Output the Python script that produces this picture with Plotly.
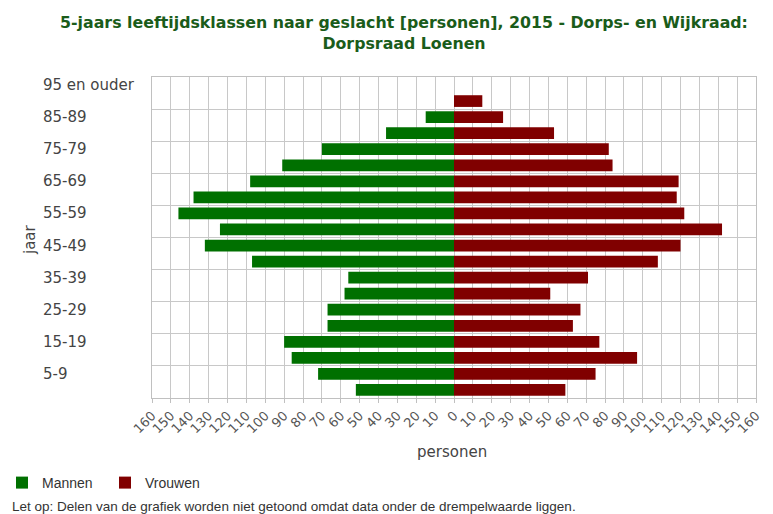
import plotly.graph_objects as go

categories = ["0-4", "5-9", "10-14", "15-19", "20-24", "25-29", "30-34", "35-39",
              "40-44", "45-49", "50-54", "55-59", "60-64", "65-69", "70-74",
              "75-79", "80-84", "85-89", "90-94", "95 en ouder"]
mannen = [52, 72, 86, 90, 67, 67, 58, 56, 107, 132, 124, 146, 138, 108, 91,
          70, 36, 15, None, None]
vrouwen = [59, 75, 97, 77, 63, 67, 51, 71, 108, 120, 142, 122, 118, 119, 84,
           82, 53, 26, 15, None]
x_ticks = list(range(-160, 161, 10))
label_idx = list(range(1, 20, 2))

# plot area in pixels: x 152..756, y 77..398
PL, PR, PT, PB = 152, 756, 77, 398
PW, PH = PR - PL, PB - PT


def px_x(x):
    return (x - PL) / PW


def px_y(y):
    return (PB - y) / PH


ypos = list(range(len(categories)))
fig = go.Figure()
fig.add_trace(go.Bar(y=ypos, x=[-v if v is not None else None for v in mannen],
                     orientation="h", name="Mannen", marker_color="#007000",
                     marker_line_width=0))
fig.add_trace(go.Bar(y=ypos, x=vrouwen, orientation="h", name="Vrouwen",
                     marker_color="#800000", marker_line_width=0))

for i in label_idx:
    fig.add_annotation(x=px_x(41), xref="paper", y=i, yref="y", text=categories[i],
                       showarrow=False, xanchor="left", yanchor="middle",
                       font=dict(family="DejaVu Sans", size=15, color="#444444"))

fig.add_annotation(x=px_x(30), xref="paper", y=px_y(240), yref="paper",
                   text="jaar", textangle=-90, showarrow=False,
                   xanchor="center", yanchor="middle",
                   font=dict(family="DejaVu Sans", size=15, color="#444444"))

fig.add_annotation(x=px_x(452), xref="paper", y=px_y(452), yref="paper",
                   text="personen", showarrow=False,
                   xanchor="center", yanchor="middle",
                   font=dict(family="DejaVu Sans", size=15, color="#444444"))

fig.add_annotation(x=px_x(10), xref="paper", y=px_y(506), yref="paper",
                   xanchor="left", yanchor="middle", showarrow=False,
                   text="Let op: Delen van de grafiek worden niet getoond omdat data onder de drempelwaarde liggen.",
                   font=dict(family="Liberation Sans", size=13.5, color="#333333"))

fig.update_layout(
    width=773, height=514,
    barmode="overlay", bargap=0.27,
    hovermode=False,
    plot_bgcolor="white", paper_bgcolor="white",
    margin=dict(l=PL, r=773 - PR, t=PT, b=514 - PB, autoexpand=False),
    title=dict(text="5-jaars leeftijdsklassen naar geslacht [personen], 2015 - Dorps- en Wijkraad:<br>Dorpsraad Loenen",
               x=404 / 773, xanchor="center", y=1 - 28 / 514, yanchor="middle", yref="container",
               font=dict(family="DejaVu Sans", size=15.8, color="#1a5c1a", weight="bold")),
    font=dict(family="DejaVu Sans", color="#444444"),
    showlegend=True,
    legend=dict(orientation="h", x=px_x(2), xref="paper", y=px_y(483), yref="paper",
                yanchor="middle", xanchor="left", entrywidth=58, entrywidthmode="pixels",
                font=dict(family="Liberation Sans", size=14, color="#333333"),
                traceorder="normal"),
    xaxis=dict(range=[-160, 160], tickvals=x_ticks, automargin=False,
               ticktext=[str(abs(v)) for v in x_ticks], tickangle=-45,
               tickfont=dict(family="DejaVu Sans", size=13, color="#555555"),
               showgrid=True, gridcolor="#c8c8c8", gridwidth=1,
               zeroline=False, showline=True, mirror=True, linecolor="#c0c0c0",
               ticks="outside", ticklen=4, tickcolor="#c0c0c0"),
    yaxis=dict(range=[-0.5, 19.5], tickvals=label_idx, ticktext=["" for _ in label_idx],
               automargin=False,
               showgrid=False, zeroline=False, showline=True, mirror=True,
               linecolor="#c0c0c0", ticks="",
               minor=dict(tickvals=[i - 0.5 for i in range(0, 21, 2)], showgrid=True,
                          gridcolor="#c8c8c8", gridwidth=1, ticks="")),
)

fig.write_html("out.html", config={"displayModeBar": False},
               post_script="document.body.style.margin='0';document.body.style.padding='0';")
